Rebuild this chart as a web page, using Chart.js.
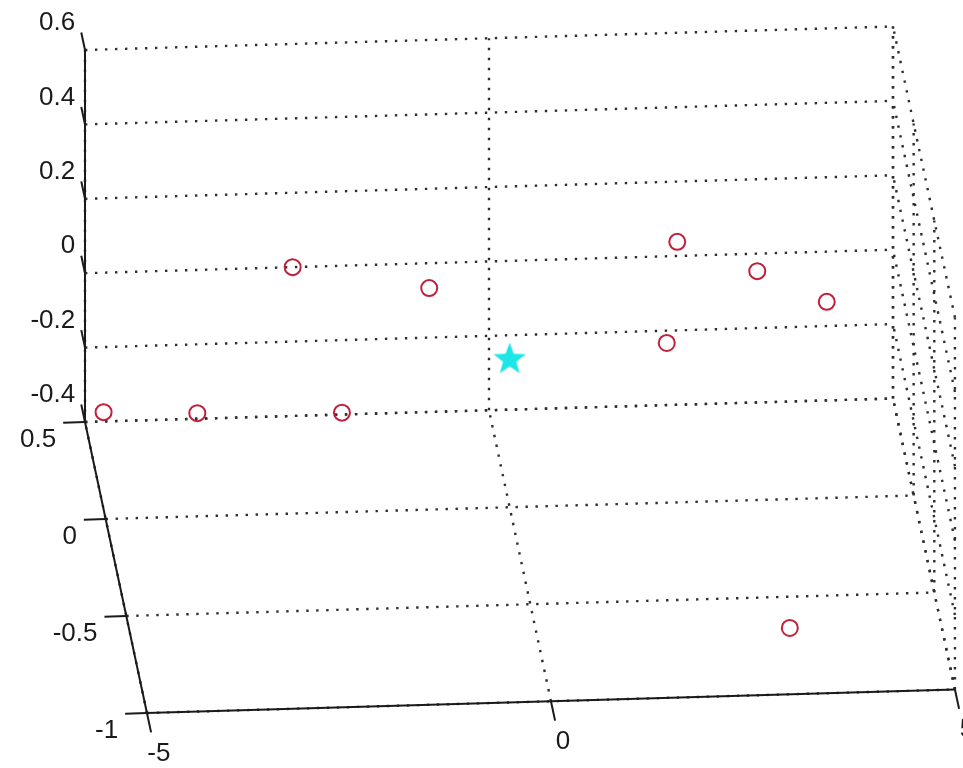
<!DOCTYPE html>
<html>
<head>
<meta charset="utf-8">
<script src="https://cdn.jsdelivr.net/npm/chart.js@4.4.1/dist/chart.umd.min.js"></script>
<style>
  html, body { margin: 0; padding: 0; background: #fff; }
  canvas { display: block; }
</style>
</head>
<body>
<canvas id="plot3d" width="963" height="768"></canvas>
<script>
// sample points (x, y, z)
var pointX = [-4.77, -3.61, -1.82, -2.43, -0.74, 2.33, 3.32, 4.18, 2.20, 3.13];
var pointY = [0.5, 0.5, 0.5, 0.5, 0.5, 0.5, 0.5, 0.5, 0.5, -0.66];
var pointZ = [-0.375, -0.385, -0.395, 0.0, -0.067, 0.038, -0.047, -0.135, -0.233, -0.4];

// centre (star)
var centerX = [0];
var centerY = [0];
var centerZ = [0];

// axis ticks
var xTicks = [-5, 0, 5];
var yTicks = [-1, -0.5, 0, 0.5];
var zTicks = [-0.4, -0.2, 0, 0.2, 0.4, 0.6];
var xTickLabels = ['-5', '0', '5'];
var yTickLabels = ['-1', '-0.5', '0', '0.5'];
var zTickLabels = ['-0.4', '-0.2', '0', '0.2', '0.4', '0.6'];

var xmin = xTicks[0], xmax = xTicks[xTicks.length - 1];
var ymin = yTicks[0], ymax = yTicks[yTicks.length - 1];
var zmin = zTicks[0], zmax = zTicks[zTicks.length - 1];

// camera: origin and screen step per unit of x, y, z
var view = { ox: 509.65, oy: 358.45, ex: [80.8, -2.35], ey: [-41.3, -194], ez: [0, -372] };

function proj(x, y, z) {
    return {
        x: view.ox + x * view.ex[0] + y * view.ey[0] + z * view.ez[0],
        y: view.oy + x * view.ex[1] + y * view.ey[1] + z * view.ez[1]
    };
}

var gridColor = '#2e2e2e';
var axisColor = '#1a1a1a';

function segment(a, b, dotted) {
    return {
        data: [proj(a[0], a[1], a[2]), proj(b[0], b[1], b[2])],
        showLine: true,
        borderColor: dotted ? gridColor : axisColor,
        borderWidth: dotted ? 2.4 : 2,
        borderDash: dotted ? [2.4, 7.6] : [],
        borderCapStyle: 'butt',
        pointRadius: 0,
        fill: false,
        order: dotted ? 3 : 2
    };
}

var datasets = [];

// back wall (y = ymax)
zTicks.forEach(function(z){ datasets.push(segment([xmin, ymax, z], [xmax, ymax, z], true)); });
xTicks.forEach(function(x){ datasets.push(segment([x, ymax, zmin], [x, ymax, zmax], true)); });
// floor (z = zmin)
yTicks.forEach(function(y){ datasets.push(segment([xmin, y, zmin], [xmax, y, zmin], true)); });
xTicks.forEach(function(x){ datasets.push(segment([x, ymin, zmin], [x, ymax, zmin], true)); });
// right wall (x = xmax)
zTicks.forEach(function(z){ datasets.push(segment([xmax, ymin, z], [xmax, ymax, z], true)); });
yTicks.forEach(function(y){ datasets.push(segment([xmax, y, zmin], [xmax, y, zmax], true)); });

// axis lines
datasets.push(segment([xmin, ymax, zmin], [xmin, ymax, zmax], false));
datasets.push(segment([xmin, ymin, zmin], [xmin, ymax, zmin], false));
datasets.push(segment([xmin, ymin, zmin], [xmax, ymin, zmin], false));

// tick marks
zTicks.forEach(function(z){ datasets.push(segment([xmin, ymax, z], [xmin, ymax + 0.09, z], false)); });
yTicks.forEach(function(y){ datasets.push(segment([xmin, y, zmin], [xmin - 0.27, y, zmin], false)); });
xTicks.forEach(function(x){ datasets.push(segment([x, ymin, zmin], [x, ymin - 0.1, zmin], false)); });

// red open circles
var pts = [];
for (var i = 0; i < pointX.length; i++) {
    pts.push(proj(pointX[i], pointY[i], pointZ[i]));
}
datasets.push({
    data: pts,
    pointStyle: 'circle',
    pointRadius: 8,
    borderWidth: 2,
    borderColor: '#c0203c',
    backgroundColor: 'rgba(0,0,0,0)',
    showLine: false,
    order: 0
});

// cyan filled star
var starImg = document.createElement('canvas');
starImg.width = 36;
starImg.height = 36;
var sctx = starImg.getContext('2d');
sctx.beginPath();
for (var k = 0; k < 10; k++) {
    var r = (k % 2 === 0) ? 17 : 7;
    var a = -Math.PI / 2 + k * Math.PI / 5;
    var px = 18 + r * Math.cos(a), py = 19 + r * Math.sin(a);
    if (k === 0) sctx.moveTo(px, py); else sctx.lineTo(px, py);
}
sctx.closePath();
sctx.fillStyle = '#1ee6e6';
sctx.fill();

var cpts = [];
for (var j = 0; j < centerX.length; j++) {
    cpts.push(proj(centerX[j], centerY[j], centerZ[j]));
}
datasets.push({
    data: cpts,
    pointStyle: starImg,
    pointRadius: 17,
    showLine: false,
    order: 0
});

// tick labels drawn on the canvas at projected positions
var tickLabelPlugin = {
    id: 'tickLabels',
    afterDatasetsDraw: function(chart) {
        var ctx = chart.ctx;
        var sx = chart.scales.x, sy = chart.scales.y;
        function put(p, txt, align) {
            ctx.textAlign = align;
            ctx.fillText(txt, sx.getPixelForValue(p.x), sy.getPixelForValue(p.y));
        }
        ctx.save();
        ctx.font = '26px "Liberation Sans", Arial, sans-serif';
        ctx.fillStyle = '#1a1a1a';
        ctx.textBaseline = 'middle';
        zTicks.forEach(function(z, i){ put(proj(xmin - 0.05, ymax + 0.14, z), zTickLabels[i], 'right'); });
        yTicks.forEach(function(y, i){ put(proj(xmin - 0.4, y - 0.085, zmin), yTickLabels[i], 'right'); });
        xTicks.forEach(function(x, i){ put(proj(x + 0.04, ymin - 0.21, zmin), xTickLabels[i], 'center'); });
        ctx.restore();
    }
};

var ctx = document.getElementById('plot3d').getContext('2d');
var chart = new Chart(ctx, {
    type: 'scatter',
    data: { datasets: datasets },
    options: {
        responsive: false,
        animation: false,
        events: [],
        layout: { autoPadding: false, padding: 0 },
        plugins: {
            legend: { display: false },
            tooltip: { enabled: false }
        },
        scales: {
            x: { type: 'linear', min: 0, max: 963, display: false },
            y: { type: 'linear', min: 0, max: 768, reverse: true, display: false }
        }
    },
    plugins: [tickLabelPlugin]
});
</script>
</body>
</html>
